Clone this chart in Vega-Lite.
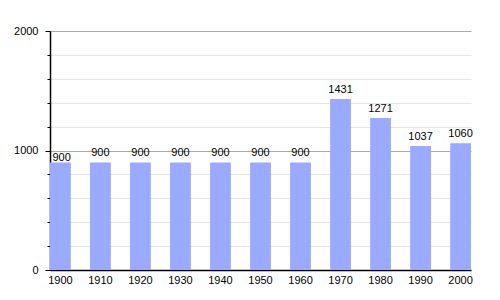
{
  "$schema": "https://vega.github.io/schema/vega-lite/v6.json",
  "autosize": "none",
  "padding": {"left": 50, "top": 31, "right": 29, "bottom": 30},
  "width": 421,
  "height": 239,
  "config": {
    "font": "Liberation Sans",
    "view": {"stroke": null},
    "axis": {"labelFont": "Liberation Sans", "labelFontSize": 11, "labelColor": "#000", "domainColor": "#000", "domainWidth": 1.5}
  },
  "data": {
    "values": [
      {"year": "1900", "pop": 900},
      {"year": "1910", "pop": 900},
      {"year": "1920", "pop": 900},
      {"year": "1930", "pop": 900},
      {"year": "1940", "pop": 900},
      {"year": "1950", "pop": 900},
      {"year": "1960", "pop": 900},
      {"year": "1970", "pop": 1431},
      {"year": "1980", "pop": 1271},
      {"year": "1990", "pop": 1037},
      {"year": "2000", "pop": 1060}
    ]
  },
  "encoding": {
    "x": {
      "field": "year", "type": "ordinal", "title": null,
      "scale": {"paddingInner": 0.48, "paddingOuter": 0},
      "axis": {"labelAngle": 0, "ticks": false, "labelPadding": 4}
    },
    "y": {
      "field": "pop", "type": "quantitative", "title": null,
      "scale": {"domain": [0, 2000], "nice": false},
      "axis": {
        "values": [0, 200, 400, 600, 800, 1000, 1200, 1400, 1600, 1800, 2000],
        "format": "d",
        "labelExpr": "datum.value % 1000 === 0 ? datum.label : ''",
        "tickColor": "#000",
        "tickSize": {"condition": {"test": "datum.value % 1000 === 0", "value": 5}, "value": 3},
        "labelPadding": 7,
        "gridColor": {"condition": {"test": "datum.value % 1000 === 0", "value": "#aaaaaa"}, "value": "#e6e6e6"},
        "gridWidth": 1
      }
    }
  },
  "layer": [
    {"mark": {"type": "bar", "color": "#99aaff"}},
    {
      "transform": [{"filter": "datum.year !== '1900'"}],
      "mark": {"type": "text", "baseline": "bottom", "dy": -4, "fontSize": 11, "color": "#000"},
      "encoding": {"text": {"field": "pop", "type": "quantitative", "format": "d"}}
    },
    {
      "transform": [{"filter": "datum.year === '1900'"}],
      "mark": {"type": "text", "baseline": "bottom", "align": "left", "dx": -8, "dy": 1, "fontSize": 11, "color": "#000"},
      "encoding": {"text": {"field": "pop", "type": "quantitative", "format": "d"}}
    }
  ]
}
